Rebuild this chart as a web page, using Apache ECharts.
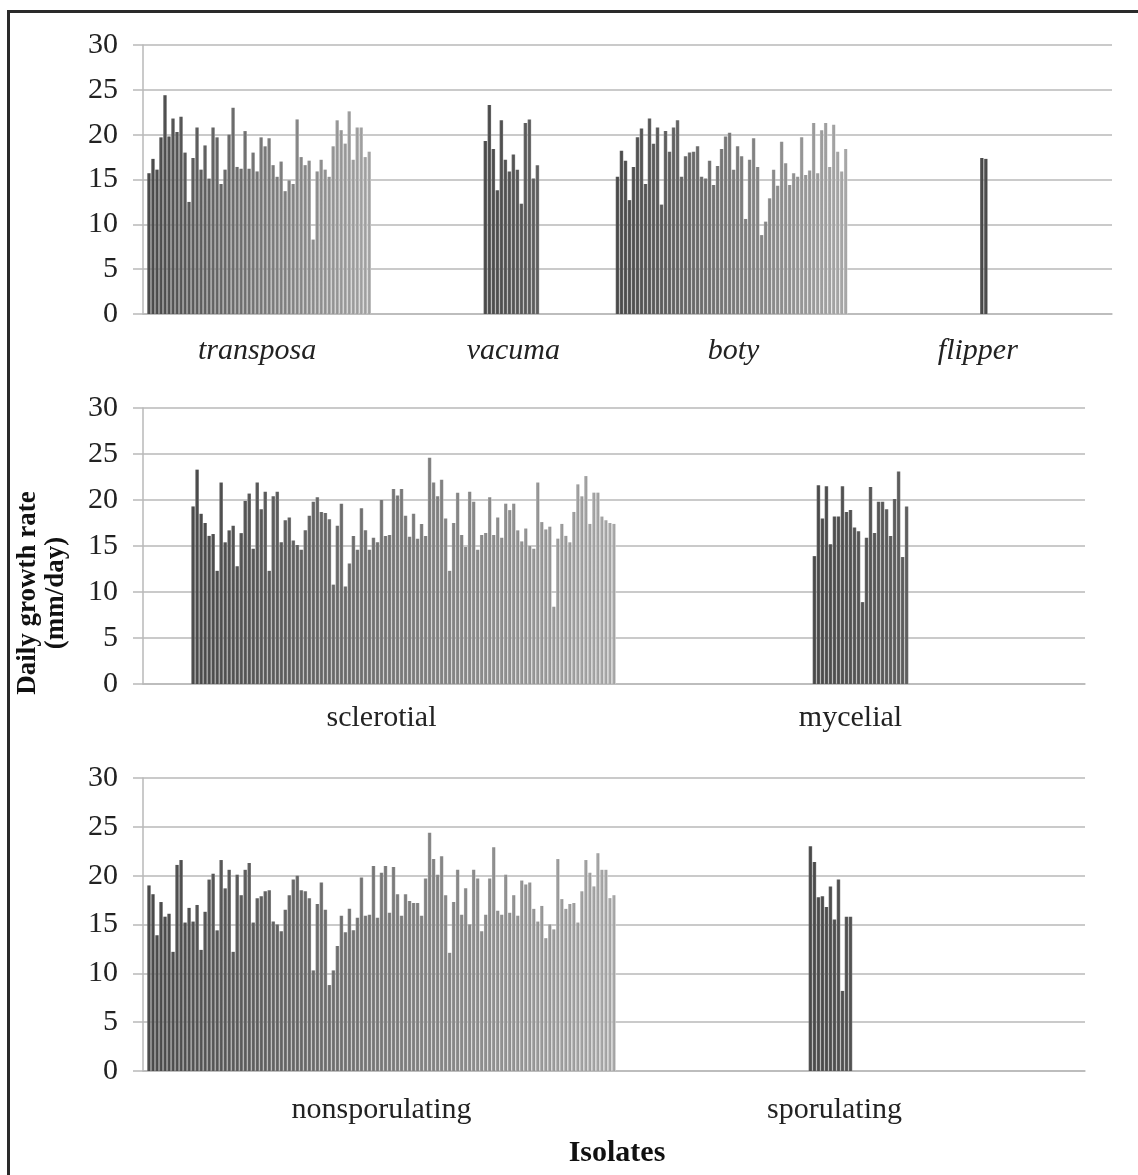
<!DOCTYPE html>
<html>
<head>
<meta charset="utf-8">
<script src="https://cdn.jsdelivr.net/npm/echarts@6/dist/echarts.min.js"></script>
<style>
html,body{margin:0;padding:0;background:#fff;}
#frame{position:absolute;left:7px;top:10px;width:1140px;height:1180px;border-left:3px solid #2a2a2a;border-top:3px solid #2a2a2a;}
#chart{position:absolute;left:0;top:0;width:1138px;height:1175px;}
</style>
</head>
<body>
<div id="frame"></div>
<div id="chart"></div>
<script>
// ---------------- data (daily growth rate, mm/day) ----------------
const yTicks = [0, 5, 10, 15, 20, 25, 30];

// Panel 1: transposon groups
const groupNames1 = ['transposa', 'vacuma', 'boty', 'flipper'];
const transposa = [15.7,17.3,16.1,19.7,24.4,19.8,21.8,20.3,22.0,18.0,12.5,17.4,20.8,16.1,18.8,15.1,20.8,19.7,14.5,16.1,20.0,23.0,16.4,16.2,20.4,16.2,18.0,15.9,19.7,18.7,19.6,16.6,15.3,17.0,13.7,14.9,14.5,21.7,17.5,16.6,17.1,8.3,15.9,17.2,16.1,15.3,18.7,21.6,20.5,19.0,22.6,17.2,20.8,20.8,17.5,18.1];
const vacuma = [19.3,23.3,18.4,13.8,21.6,17.2,15.9,17.8,16.1,12.3,21.3,21.7,15.1,16.6];
const boty = [15.3,18.2,17.1,12.7,16.4,19.7,20.7,14.5,21.8,19.0,20.8,12.2,20.4,18.1,20.8,21.6,15.3,17.6,18.0,18.1,18.7,15.3,15.1,17.1,14.4,16.5,18.4,19.8,20.2,16.1,18.7,17.6,10.6,17.2,19.6,16.4,8.8,10.3,12.9,16.1,14.3,19.2,16.8,14.4,15.7,15.3,19.7,15.5,16.0,21.3,15.7,20.5,21.3,16.4,21.1,18.1,15.9,18.4];
const flipper = [17.4,17.3];

// Panel 2: morphology
const groupNames2 = ['sclerotial', 'mycelial'];
const sclerotial = [19.3,23.3,18.5,17.5,16.1,16.3,12.3,21.9,15.4,16.7,17.2,12.8,16.4,19.9,20.7,14.7,21.9,19.0,20.9,12.3,20.4,20.9,15.4,17.8,18.1,15.6,15.1,14.6,16.7,18.3,19.8,20.3,18.7,18.6,17.9,10.8,17.2,19.6,10.6,13.1,16.1,14.6,19.1,16.7,14.6,15.9,15.4,20.0,16.1,16.2,21.2,20.5,
  21.2,18.3,16.0,18.5,15.8,17.4,16.1,24.6,21.9,20.4,22.2,18.0,12.3,17.5,20.8,16.2,14.9,20.9,19.8,14.6,16.2,16.4,20.3,16.2,18.1,15.9,19.6,18.9,19.6,16.7,15.5,16.9,15.0,14.7,21.9,17.6,16.8,17.1,8.4,15.8,17.4,16.1,15.4,18.7,21.7,20.4,22.6,17.4,20.8,20.8,18.2,17.8,17.5,17.4];
const mycelial = [13.9,21.6,18.0,21.5,15.2,18.2,18.2,21.5,18.7,18.9,17.0,16.6,8.9,15.9,21.4,16.4,19.8,19.8,19.0,16.1,20.1,23.1,13.8,19.3];

// Panel 3: sporulation
const groupNames3 = ['nonsporulating', 'sporulating'];
const nonsporulating = [19.0,18.1,13.9,17.3,15.8,16.1,12.2,21.1,21.6,15.2,16.7,15.3,17.0,12.4,16.3,19.6,20.2,14.4,21.6,18.7,20.6,12.2,20.1,18.0,20.6,21.3,15.2,17.7,17.9,18.4,18.5,15.3,15.0,14.3,16.5,18.0,19.6,20.0,18.5,18.4,17.7,10.3,17.1,19.3,16.5,8.8,10.3,12.8,15.9,14.2,16.6,14.4,15.7,
  19.8,15.9,16.0,21.0,15.7,20.3,21.0,16.2,20.9,18.1,15.9,18.1,17.4,17.2,17.2,15.9,19.7,24.4,21.7,20.1,22.0,18.0,12.1,17.3,20.6,16.0,18.7,15.0,20.6,19.7,14.3,16.0,19.7,22.9,16.4,16.0,20.1,16.2,18.0,15.9,19.5,19.1,19.3,16.6,15.3,16.9,13.6,15.0,14.5,21.7,17.6,16.6,17.1,17.2,15.2,18.4,21.6,20.3,18.9,22.3,20.6,20.6,17.7,18.0];
const sporulating = [23.0,21.4,17.8,17.9,16.8,18.9,15.5,19.6,8.2,15.8,15.8];

const yTitle = 'Daily growth rate\n(mm/day)';
const xTitle = 'Isolates';

// ---------------- layout ----------------
const SERIF = '"Liberation Serif","Times New Roman",serif';
const GRID_COLOR = '#b9b9b9';

const panels = [
  { names: groupNames1, values: [transposa, vacuma, boty, flipper],
    slots: 242, starts: [1, 85, 118, 209], labelSlots: [28, 92, 147, 208],
    italic: true, grid: {left: 143, right: 26, top: 45, height: 269}, labelMargin: 22 },
  { names: groupNames2, values: [sclerotial, mycelial],
    slots: 235, starts: [12, 167], labelSlots: [59, 176],
    italic: false, grid: {left: 143, right: 53, top: 408, height: 276}, labelMargin: 19 },
  { names: groupNames3, values: [nonsporulating, sporulating],
    slots: 235, starts: [1, 166], labelSlots: [59, 172],
    italic: false, grid: {left: 143, right: 53, top: 778, height: 293}, labelMargin: 24 }
];

function shade(i, nRef) {
  const t = Math.min(1, i / Math.max(1, nRef - 1));
  return Math.round(78 + t * 92);
}
function rgb(g) { g = Math.max(0, Math.min(255, g)); return 'rgb(' + g + ',' + g + ',' + g + ')'; }

const grids = [], xAxes = [], yAxes = [], series = [];
panels.forEach((p, pi) => {
  const nRef = Math.max.apply(null, p.values.map(v => v.length));
  const cats = [];
  const labelMap = {};
  const data = new Array(p.slots).fill(null);
  for (let s = 0; s < p.slots; s++) cats.push('s' + s);
  p.names.forEach((nm, gi) => {
    labelMap[p.labelSlots[gi]] = nm;
    p.values[gi].forEach((v, i) => {
      const g = shade(i, nRef);
      data[p.starts[gi] + i] = {
        value: v,
        itemStyle: {
          color: new echarts.graphic.LinearGradient(0, 0, 1, 0, [
            {offset: 0, color: rgb(g + 25)},
            {offset: 0.3, color: rgb(g)},
            {offset: 0.7, color: rgb(g - 8)},
            {offset: 1, color: rgb(g + 45)}
          ])
        }
      };
    });
  });
  grids.push(Object.assign({containLabel: false}, p.grid));
  xAxes.push({
    type: 'category', gridIndex: pi, data: cats,
    axisLine: {show: true, lineStyle: {color: GRID_COLOR, width: 1.5}},
    axisTick: {show: false},
    splitLine: {show: false},
    axisLabel: {
      interval: 0, margin: p.labelMargin,
      fontFamily: SERIF, fontSize: 30, color: '#222',
      fontStyle: p.italic ? 'italic' : 'normal',
      formatter: (val, idx) => labelMap[idx] || ''
    }
  });
  yAxes.push({
    type: 'value', gridIndex: pi, min: yTicks[0], max: yTicks[yTicks.length - 1], interval: 5,
    axisLine: {show: true, lineStyle: {color: GRID_COLOR, width: 1.5}},
    axisTick: {show: true, length: 10, lineStyle: {color: GRID_COLOR, width: 1.5}},
    splitLine: {show: true, lineStyle: {color: GRID_COLOR, width: 1.5}},
    axisLabel: {fontFamily: SERIF, fontSize: 30, color: '#222', margin: 25}
  });
  series.push({
    type: 'bar', xAxisIndex: pi, yAxisIndex: pi, data: data,
    barCategoryGap: '12%', animation: false, silent: true
  });
});

const chart = echarts.init(document.getElementById('chart'), null, {renderer: 'canvas'});
chart.setOption({
  backgroundColor: 'transparent',
  animation: false,
  grid: grids, xAxis: xAxes, yAxis: yAxes, series: series,
  graphic: [
    { type: 'text', x: 617, y: 1153,
      style: {text: xTitle, font: 'bold 30px ' + SERIF, fill: '#111',
              textAlign: 'center', textVerticalAlign: 'middle'} },
    { type: 'text', rotation: Math.PI / 2, x: 42, y: 593,
      style: {text: yTitle, font: 'bold 27px ' + SERIF, fill: '#111',
              textAlign: 'center', textVerticalAlign: 'middle', lineHeight: 28} }
  ]
});
</script>
</body>
</html>
